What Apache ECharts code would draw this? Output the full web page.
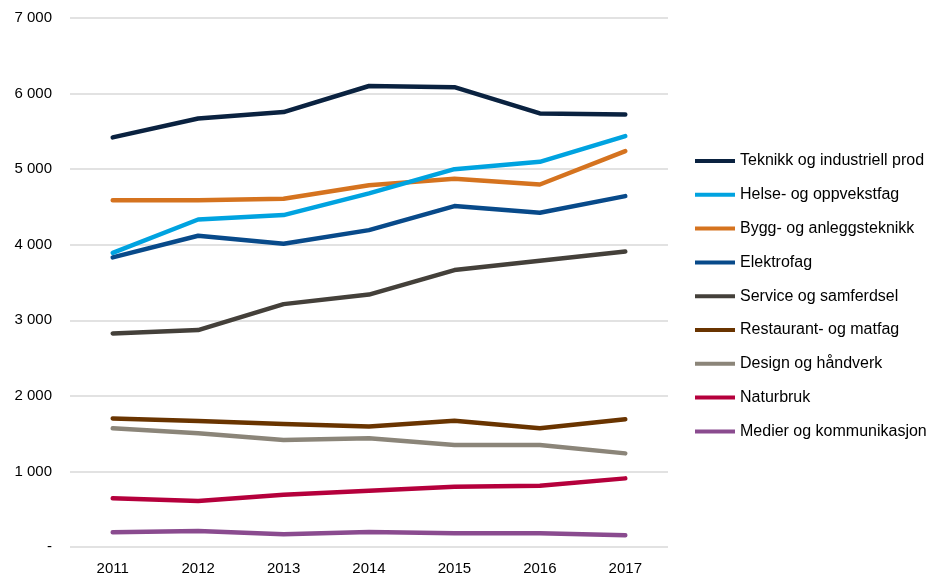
<!DOCTYPE html>
<html>
<head>
<meta charset="utf-8">
<script src="https://cdn.jsdelivr.net/npm/echarts@6/dist/echarts.min.js"></script>
<style>html,body{margin:0;padding:0;background:#fff}#c{width:951px;height:581px}</style>
</head>
<body>
<div id="c"></div>
<script>
const years = ['2011','2012','2013','2014','2015','2016','2017'];
const names = ['Teknikk og industriell prod','Helse- og oppvekstfag','Bygg- og anleggsteknikk','Elektrofag','Service og samferdsel','Restaurant- og matfag','Design og håndverk','Naturbruk','Medier og kommunikasjon'];
const colors = ['#0a2240','#00a3e0','#d5731f','#084a8a','#44403a','#693400','#8b8579','#b5003c','#8a4b8f'];
const teknikk = [5420, 5670, 5755, 6100, 6085, 5737, 5723];
const helse = [3893, 4334, 4392, 4680, 5000, 5097, 5437];
const bygg = [4590, 4590, 4607, 4788, 4872, 4797, 5238];
const elektro = [3832, 4118, 4012, 4193, 4511, 4422, 4643];
const service = [2826, 2870, 3214, 3340, 3664, 3787, 3911];
const restaurant = [1702, 1667, 1627, 1595, 1671, 1570, 1689];
const design = [1570, 1504, 1415, 1438, 1349, 1349, 1239];
const naturbruk = [644, 608, 690, 745, 798, 811, 908];
const medier = [194, 211, 168, 200, 181, 181, 155];
const seriesData = [teknikk, helse, bygg, elektro, service, restaurant, design, naturbruk, medier];

const font = 'Liberation Sans';
const chart = echarts.init(document.getElementById('c'));
chart.setOption({
  animation: false,
  grid: {left: 70, right: 283, top: 18, bottom: 34, containLabel: false},
  legend: {
    orient: 'vertical', left: 695, top: 153, padding: 0,
    icon: 'path://M0,0H40V4H0Z',
    itemWidth: 40, itemHeight: 4, itemGap: 17.8,
    textStyle: {fontFamily: font, fontSize: 16, lineHeight: 16, color: '#000', padding: [0, 0, 0, 0]},
    data: names
  },
  xAxis: {
    type: 'category', data: years, boundaryGap: true,
    axisLine: {show: false}, axisTick: {show: false},
    axisLabel: {fontFamily: font, fontSize: 15, color: '#000', margin: 14}
  },
  yAxis: {
    type: 'value', min: 0, max: 7000, interval: 1000,
    axisLine: {show: false}, axisTick: {show: false},
    splitLine: {lineStyle: {color: '#d9d9d9', width: 1.5}},
    axisLabel: {
      fontFamily: font, fontSize: 15, color: '#000', margin: 18,
      formatter: v => v === 0 ? '-' : String(v).replace(/\B(?=(\d{3})+(?!\d))/g, ' ')
    }
  },
  series: names.map((n, i) => ({
    name: n, type: 'line', data: seriesData[i],
    symbol: 'none', color: colors[i],
    lineStyle: {width: 4.5, color: colors[i], cap: 'round', join: 'round'},
    z: 10 - i
  }))
});
</script>
</body>
</html>
